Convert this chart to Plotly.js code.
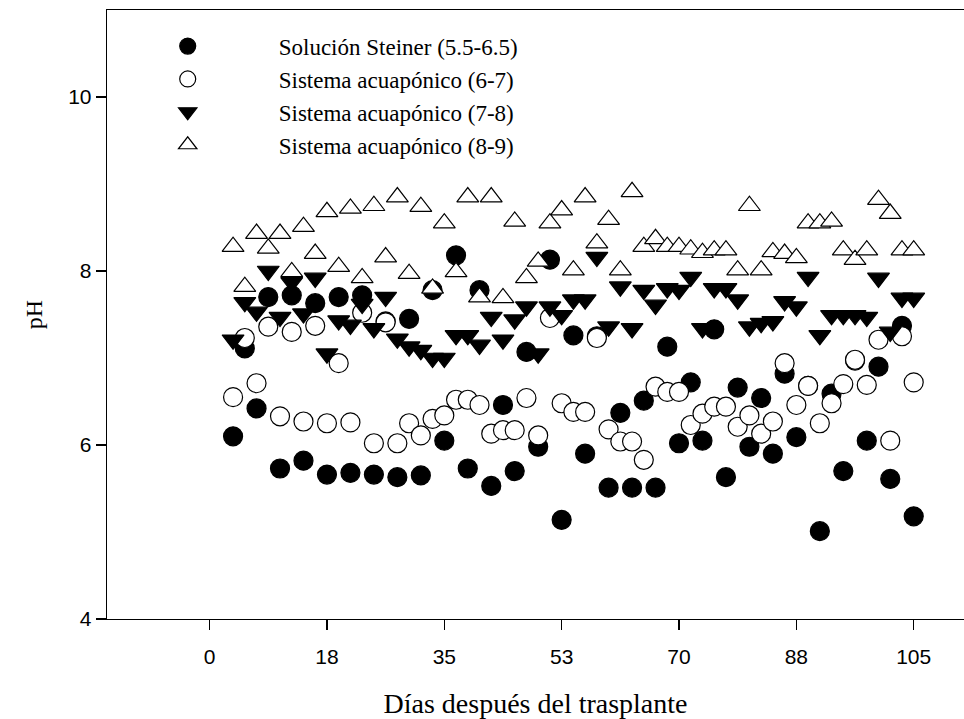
<!DOCTYPE html>
<html>
<head>
<meta charset="utf-8">
<script src="https://cdn.plot.ly/plotly-3.0.1.min.js"></script>
<style>
  html, body { margin: 0; padding: 0; background: #fff; overflow: hidden; }
  #chart { width: 964px; height: 719px; }
</style>
</head>
<body>
<div id="chart"></div>
<script>
// Days after transplant (sampling every 1.75 days)
const days = [3.5, 5.25, 7, 8.75, 10.5, 12.25, 14, 15.75, 17.5, 19.25,
  21, 22.75, 24.5, 26.25, 28, 29.75, 31.5, 33.25, 35, 36.75,
  38.5, 40.25, 42, 43.75, 45.5, 47.25, 49, 50.75, 52.5, 54.25,
  56, 57.75, 59.5, 61.25, 63, 64.75, 66.5, 68.25, 70, 71.75,
  73.5, 75.25, 77, 78.75, 80.5, 82.25, 84, 85.75, 87.5, 89.25,
  91, 92.75, 94.5, 96.25, 98, 99.75, 101.5, 103.25, 105];

const steiner = [6.10, 7.11, 6.42, 7.70, 5.73, 7.72, 5.82, 7.63, 5.66, 7.70,
  5.68, 7.72, 5.66, 7.42, 5.63, 7.45, 5.65, 7.78, 6.05, 8.18,
  5.73, 7.78, 5.53, 6.46, 5.70, 7.07, 5.98, 8.13, 5.14, 7.26,
  5.90, 7.25, 5.51, 6.37, 5.51, 6.51, 5.51, 7.13, 6.02, 6.72,
  6.05, 7.33, 5.63, 6.66, 5.98, 6.54, 5.90, 6.82, 6.09, 6.68,
  5.01, 6.59, 5.70, 6.97, 6.05, 6.90, 5.61, 7.37, 5.18];

const acua67 = [6.55, 7.23, 6.71, 7.36, 6.33, 7.30, 6.27, 7.37, 6.25, 6.94,
  6.26, 7.52, 6.02, 7.41, 6.02, 6.25, 6.11, 6.30, 6.34, 6.52,
  6.52, 6.46, 6.13, 6.17, 6.17, 6.54, 6.11, 7.46, 6.48, 6.38,
  6.38, 7.23, 6.18, 6.04, 6.04, 5.83, 6.67, 6.61, 6.61, 6.23,
  6.36, 6.44, 6.44, 6.21, 6.34, 6.13, 6.27, 6.94, 6.46, 6.68,
  6.25, 6.48, 6.70, 6.98, 6.69, 7.21, 6.05, 7.25, 6.72];

const acua78 = [7.21, 7.64, 7.53, 8.00, 7.47, 7.87, 7.51, 7.92, 7.05, 7.43,
  7.38, 7.62, 7.34, 7.70, 7.22, 7.13, 7.09, 7.00, 7.00, 7.26,
  7.26, 7.15, 7.47, 7.21, 7.44, 7.59, 7.05, 7.59, 7.49, 7.67,
  7.67, 8.16, 7.36, 7.82, 7.34, 7.78, 7.61, 7.80, 7.78, 7.93,
  7.34, 7.80, 7.80, 7.67, 7.36, 7.40, 7.42, 7.65, 7.59, 7.93,
  7.26, 7.49, 7.49, 7.49, 7.47, 7.92, 7.30, 7.69, 7.69];

const acua89 = [8.28, 7.82, 8.43, 8.26, 8.43, 7.99, 8.51, 8.20, 8.68, 8.05,
  8.72, 7.92, 8.75, 8.16, 8.85, 7.97, 8.74, 7.80, 8.55, 7.99,
  8.85, 7.70, 8.85, 7.69, 8.57, 7.92, 8.11, 8.55, 8.70, 8.01,
  8.85, 8.32, 8.59, 8.01, 8.91, 8.28, 8.37, 8.28, 8.28, 8.25,
  8.21, 8.24, 8.24, 8.01, 8.75, 8.01, 8.22, 8.20, 8.15, 8.55,
  8.55, 8.57, 8.24, 8.13, 8.24, 8.82, 8.66, 8.24, 8.24];

const seriesNames = ['Solución Steiner (5.5-6.5)', 'Sistema acuapónico (6-7)',
  'Sistema acuapónico (7-8)', 'Sistema acuapónico (8-9)'];

const tickVals = [0, 17.5, 35, 52.5, 70, 87.5, 105];
const tickText = ['0', '18', '35', '53', '70', '88', '105'];
const yTickVals = [4, 6, 8, 10];

const serif = 'Liberation Serif, Times New Roman, serif';
const sans = 'Liberation Sans, Arial, sans-serif';

function mk(y, name, symbol, fill, size) {
  return {
    x: days, y: y, name: name, type: 'scatter', mode: 'markers',
    marker: { symbol: symbol, size: size, color: fill,
      line: { color: '#000', width: 1.2 } },
    cliponaxis: false
  };
}

const data = [
  mk(steiner, seriesNames[0], 'circle', '#000', 19),
  mk(acua67, seriesNames[1], 'circle', '#fff', 19),
  mk(acua78, seriesNames[2], 'triangle-down', '#000', 19),
  mk(acua89, seriesNames[3], 'triangle-up', '#fff', 19)
];

const layout = {
  width: 964, height: 719,
  margin: { l: 107, r: 0, t: 10, b: 100 },
  paper_bgcolor: '#fff', plot_bgcolor: '#fff',
  showlegend: true,
  legend: {
    x: -0.012, y: 0.976, xanchor: 'left', yanchor: 'top',
    bgcolor: 'rgba(0,0,0,0)', borderwidth: 0,
    itemwidth: 172, tracegroupgap: 0,
    font: { family: serif, size: 23, color: '#000' },
    itemsizing: 'trace'
  },
  xaxis: {
    range: [-15.3, 112.5], showgrid: false, zeroline: false,
    showline: true, linecolor: '#000', linewidth: 1.3, mirror: true,
    ticks: 'outside', ticklen: 10, tickwidth: 1.2, tickcolor: '#000',
    ticklabelstandoff: 8,
    tickmode: 'array', tickvals: tickVals, ticktext: tickText,
    tickfont: { family: sans, size: 21, color: '#000' },
    title: { text: 'Días después del trasplante', standoff: 28,
      font: { family: serif, size: 28, color: '#000' } }
  },
  yaxis: {
    range: [4, 11], showgrid: false, zeroline: false,
    showline: true, linecolor: '#000', linewidth: 1.3, mirror: false,
    ticks: 'outside', ticklen: 10, tickwidth: 1.2, tickcolor: '#000',
    tickmode: 'array', tickvals: yTickVals,
    tickfont: { family: sans, size: 21, color: '#000' },
    title: { text: 'pH', standoff: 18,
      font: { family: serif, size: 24, color: '#000' } }
  }
};

Plotly.newPlot('chart', data, layout, { displayModeBar: false, staticPlot: true });
</script>
</body>
</html>
